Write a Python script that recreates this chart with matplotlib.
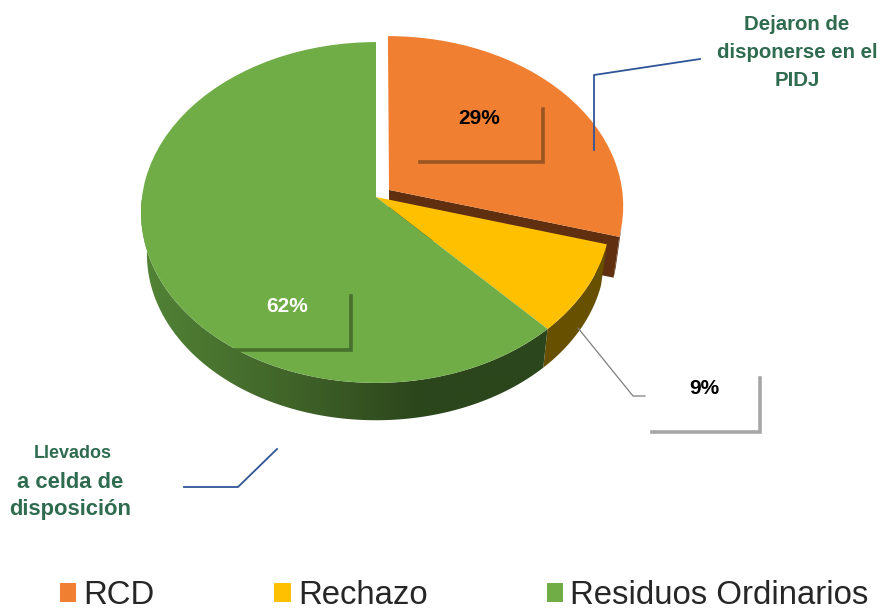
import numpy as np
import matplotlib
matplotlib.use("Agg")
import matplotlib.pyplot as plt
from matplotlib.transforms import Transform
from matplotlib.patches import Polygon
from matplotlib.colors import LinearSegmentedColormap

categories = ["RCD", "Rechazo", "Residuos Ordinarios"]
values = [29.4, 8.6, 62.0]
shown = ["29%", "9%", "62%"]
colors = ["#f07f32", "#ffc000", "#70ad47"]
explode = [0.07, 0, 0]

CX, CY, RX, RY, PERSP = 376, 197, 234, 169, 0.0909
DEPTH, SHRINK = 42, 0.975
WIDE = ["Liberation Sans"]
GREEN_TXT = "#2e6b4f"
BLUE = "#2f5597"


class Tilt(Transform):
    input_dims = output_dims = 2
    is_affine = False
    has_inverse = False

    def transform_non_affine(self, xy):
        xy = np.asarray(xy, float)
        d = 1 + PERSP * xy[:, 1]
        return np.column_stack([CX + RX * xy[:, 0] / d, CY - RY * xy[:, 1] / d])


tilt = Tilt()


def rim(t0, t1, off=(0, 0), lower=False):
    t = np.radians(np.linspace(t0, t1, 120))
    s = SHRINK if lower else 1
    pts = tilt.transform_non_affine(np.column_stack([np.cos(t) + off[0], np.sin(t) + off[1]]))
    if lower:
        apex = tilt.transform_non_affine(np.array([off]))
        pts = apex + (pts - apex) * s + [0, DEPTH]
    return pts


fig = plt.figure(figsize=(8.83, 6.10), dpi=100)
ax = fig.add_axes([0, 0, 1, 1])
wedges, _ = ax.pie(values, colors=colors, explode=explode, startangle=90,
                   counterclock=False, radius=1, center=(0, 0),
                   wedgeprops=dict(linewidth=0))
for w in wedges:
    w.set_transform(tilt + ax.transData)
    w.set_zorder(5)
ax.set_aspect("auto")

# boundary angles of the slices
cum = np.cumsum(values) / np.sum(values) * 360
a_or, a_ye = 90 - cum[0], 90 - cum[1]
m = np.radians(90 - cum[0] / 2)
off_or = (explode[0] * np.cos(m), explode[0] * np.sin(m))


def wall(t0, t1, color, z, off=(0, 0)):
    top = rim(t0, t1, off)
    bot = rim(t0, t1, off, lower=True)
    ax.add_patch(Polygon(np.vstack([top, bot[::-1]]), closed=True, fc=color, ec="none", zorder=z))


# orange: outer wall and cut face
wall(a_or + 4, a_or, "#5f2f10", 1, off_or)
ap = tilt.transform_non_affine(np.array([off_or]))[0]
end_top = rim(a_or, a_or, off_or)[0]
end_bot = rim(a_or, a_or, off_or, lower=True)[0]
ax.add_patch(Polygon([ap, end_top, end_bot, ap + [0, DEPTH]], closed=True,
                     fc="#5f2f10", ec="none", zorder=1))
# yellow wall
wall(a_or, a_ye, "#675000", 2)
# green wall with gradient
g_top = rim(a_ye, -188)
g_bot = rim(a_ye, -188, lower=True)
poly = Polygon(np.vstack([g_top, g_bot[::-1]]), closed=True, transform=ax.transData)
cmap = LinearSegmentedColormap.from_list("w", ["#528436", "#42662a", "#2c461c", "#2c461c"])
im = ax.imshow(np.linspace(0, 1, 256)[None, :], extent=[140, 560, 430, 200], aspect="auto",
               cmap=cmap, zorder=3, interpolation="bilinear")
im.set_clip_path(poly)

# data-label callouts
ax.plot([420, 543, 543], [162, 162, 109], color="#9a5523", lw=2.6, solid_joinstyle="miter", zorder=6)
ax.plot([229, 351, 351], [350, 350, 296], color="#47702e", lw=2.6, solid_joinstyle="miter", zorder=6)
ax.plot([652, 760, 760], [432, 432, 378], color="#a6a6a6", lw=2.6, solid_joinstyle="miter", zorder=6)
ax.plot([578, 633, 645], [328, 396, 396], color="#7f7f7f", lw=0.9, zorder=4)
ax.plot([594, 594, 700], [150, 75, 59], color=BLUE, lw=1.3, zorder=6)
ax.plot([184, 238, 277], [487, 487, 449], color=BLUE, lw=1.3, zorder=6)

ax.text(479, 118, shown[0], color="black", fontsize=15, fontweight="bold", family=WIDE,
        ha="center", va="center", zorder=7)
ax.text(704, 388, shown[1], color="black", fontsize=15, fontweight="bold", family=WIDE,
        ha="center", va="center", zorder=7)
ax.text(287, 306, shown[2], color="white", fontsize=15, fontweight="bold", family=WIDE,
        ha="center", va="center", zorder=7)

for s, x, y in [("Dejaron de", 797, 24), ("disponerse en el", 797, 52), ("PIDJ", 797, 80)]:
    ax.text(x, y, s, color=GREEN_TXT, fontsize=14.7, fontweight="bold", family=WIDE,
            ha="center", va="center", zorder=7)
for s, x, y, fs in [("Llevados", 73, 454, 13), ("a celda de", 70, 483, 15.8), ("disposición", 70.5, 510, 15.8)]:
    ax.text(x, y, s, color=GREEN_TXT, fontsize=fs, fontweight="bold", family=WIDE,
            ha="center", va="center", zorder=7)

leg = ax.legend(wedges, categories, ncol=3, loc="lower left", bbox_to_anchor=(60 / 883, -0.002),
                frameon=False, prop=dict(family="Liberation Sans", size=23.7),
                handlelength=0.5, handleheight=0.55, handletextpad=0.22,
                columnspacing=3.62, borderpad=0, borderaxespad=0, labelcolor="#262626")
ax.set_xlim(0, 883)
ax.set_ylim(610, 0)
ax.axis("off")
fig.savefig("out.png", dpi=100)
